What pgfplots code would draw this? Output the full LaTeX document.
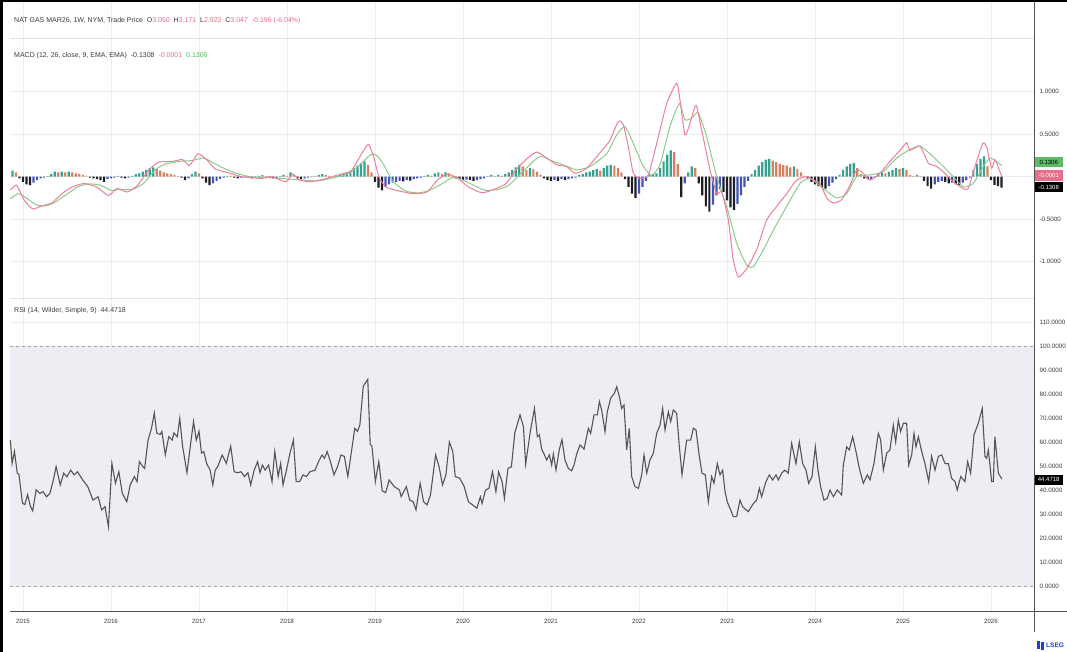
\documentclass[border=0pt]{standalone}
\usepackage{fontspec}
\setmainfont{Liberation Sans}
\usepackage{pgfplots}
\usepackage{pgfplotstable}
\pgfplotsset{compat=1.18}

\definecolor{macdpink}{HTML}{EE7F9C}
\definecolor{siggreen}{HTML}{8CCB8C}
\definecolor{hteal}{HTML}{36A190}
\definecolor{horange}{HTML}{D4825E}
\definecolor{hblack}{HTML}{1E1E28}
\definecolor{hblue}{HTML}{4355B8}
\definecolor{rsiline}{HTML}{555555}
\definecolor{band}{HTML}{ECEAF1}
\definecolor{gridc}{HTML}{ECECEC}
\definecolor{sepc}{HTML}{E2E2E2}
\definecolor{txt}{HTML}{3C3C3C}
\definecolor{pinktxt}{HTML}{E5708C}
\definecolor{greentxt}{HTML}{5CB860}
\definecolor{greenbox}{HTML}{5DBB63}
\definecolor{pinkbox}{HTML}{E5708C}
\definecolor{axisgray}{HTML}{505050}
\definecolor{lsegblue}{HTML}{1F3FD6}

% MACD histogram, one bar every 0.04 yr; k: 0 up/rising, 1 up/falling, 2 down/falling, 3 down/rising
\pgfplotstableread{
x h k
2014.88 0.07 0
2014.92 0.05 1
2014.96 -0.02 2
2015.00 -0.06 2
2015.04 -0.09 2
2015.08 -0.10 2
2015.12 -0.07 3
2015.16 -0.04 3
2015.20 -0.02 3
2015.24 -0.01 3
2015.28 0.01 0
2015.32 0.03 0
2015.36 0.06 0
2015.40 0.05 1
2015.44 0.06 0
2015.48 0.05 1
2015.52 0.06 0
2015.56 0.05 1
2015.60 0.04 1
2015.64 0.03 1
2015.68 0.02 1
2015.72 0.01 1
2015.76 -0.01 2
2015.80 -0.02 2
2015.84 -0.03 2
2015.88 -0.04 2
2015.92 -0.06 2
2015.96 -0.03 3
2016.00 -0.02 3
2016.04 -0.01 3
2016.08 0.01 0
2016.12 -0.01 2
2016.16 -0.02 2
2016.20 -0.01 3
2016.24 0.01 0
2016.28 0.03 0
2016.32 0.04 0
2016.36 0.06 0
2016.40 0.08 0
2016.44 0.10 0
2016.48 0.11 0
2016.52 0.09 1
2016.56 0.07 1
2016.60 0.05 1
2016.64 0.04 1
2016.68 0.03 1
2016.72 0.02 1
2016.76 0.01 1
2016.80 -0.01 2
2016.84 -0.04 2
2016.88 -0.02 3
2016.92 0.03 0
2016.96 0.06 0
2017.00 0.04 1
2017.04 -0.02 2
2017.08 -0.07 2
2017.12 -0.10 2
2017.16 -0.08 3
2017.20 -0.05 3
2017.24 -0.03 3
2017.28 -0.01 3
2017.32 0.01 0
2017.36 0.01 1
2017.40 -0.01 2
2017.44 -0.02 2
2017.48 -0.01 3
2017.52 0.01 0
2017.56 -0.01 2
2017.60 -0.02 2
2017.64 -0.01 3
2017.68 0.01 0
2017.72 0.02 0
2017.76 0.01 1
2017.80 -0.01 2
2017.84 -0.02 2
2017.88 -0.015 3
2017.92 0.01 0
2017.96 0.02 0
2018.00 0.01 1
2018.04 0.05 0
2018.08 0.02 1
2018.12 -0.02 2
2018.16 -0.03 2
2018.20 -0.02 3
2018.24 -0.01 3
2018.28 0.01 0
2018.32 0.01 1
2018.36 0.02 0
2018.40 0.03 0
2018.44 0.02 1
2018.48 0.01 1
2018.52 0.005 1
2018.56 0.01 0
2018.60 0.02 0
2018.64 0.03 0
2018.68 0.05 0
2018.72 0.07 0
2018.76 0.10 0
2018.80 0.13 0
2018.84 0.16 0
2018.88 0.18 0
2018.92 0.14 1
2018.96 0.05 1
2019.00 -0.06 2
2019.04 -0.13 2
2019.08 -0.16 2
2019.12 -0.12 3
2019.16 -0.09 3
2019.20 -0.07 3
2019.24 -0.06 3
2019.28 -0.05 3
2019.32 -0.055 2
2019.36 -0.04 3
2019.40 -0.045 2
2019.44 -0.03 3
2019.48 -0.02 3
2019.52 -0.01 3
2019.56 0.01 0
2019.60 0.02 0
2019.64 0.01 1
2019.68 0.04 0
2019.72 0.05 0
2019.76 0.03 1
2019.80 0.05 0
2019.84 0.04 1
2019.88 0.01 1
2019.92 -0.02 2
2019.96 -0.03 2
2020.00 -0.04 2
2020.04 -0.035 3
2020.08 -0.04 2
2020.12 -0.05 2
2020.16 -0.04 3
2020.20 -0.03 3
2020.24 -0.02 3
2020.28 0.01 0
2020.32 0.02 0
2020.36 0.01 1
2020.40 0.02 0
2020.44 0.01 1
2020.48 0.03 0
2020.52 0.05 0
2020.56 0.08 0
2020.60 0.11 0
2020.64 0.14 0
2020.68 0.12 1
2020.72 0.08 1
2020.76 0.10 0
2020.80 0.09 1
2020.84 0.06 1
2020.88 0.02 1
2020.92 -0.02 2
2020.96 -0.04 2
2021.00 -0.05 2
2021.04 -0.04 3
2021.08 -0.05 2
2021.12 -0.03 3
2021.16 -0.04 2
2021.20 -0.03 3
2021.24 -0.02 3
2021.28 -0.01 3
2021.32 0.02 0
2021.36 0.03 0
2021.40 0.05 0
2021.44 0.06 0
2021.48 0.08 0
2021.52 0.09 0
2021.56 0.07 1
2021.60 0.10 0
2021.64 0.13 0
2021.68 0.14 0
2021.72 0.13 1
2021.76 0.10 1
2021.80 0.05 1
2021.84 -0.03 2
2021.88 -0.12 2
2021.92 -0.20 2
2021.96 -0.25 2
2022.00 -0.20 3
2022.04 -0.12 3
2022.08 -0.05 3
2022.12 0.02 0
2022.16 0.03 0
2022.20 0.04 0
2022.24 0.10 0
2022.28 0.18 0
2022.32 0.26 0
2022.36 0.31 0
2022.40 0.29 1
2022.44 0.15 1
2022.48 -0.24 2
2022.52 -0.08 3
2022.56 0.05 0
2022.60 0.12 0
2022.64 0.10 1
2022.68 -0.08 2
2022.72 -0.22 2
2022.76 -0.35 2
2022.80 -0.41 2
2022.84 -0.33 3
2022.88 -0.22 3
2022.92 -0.15 3
2022.96 -0.18 2
2023.00 -0.28 2
2023.04 -0.36 2
2023.08 -0.39 2
2023.12 -0.32 3
2023.16 -0.22 3
2023.20 -0.12 3
2023.24 -0.05 3
2023.28 0.03 0
2023.32 0.08 0
2023.36 0.13 0
2023.40 0.17 0
2023.44 0.20 0
2023.48 0.21 0
2023.52 0.19 1
2023.56 0.17 1
2023.60 0.15 1
2023.64 0.14 1
2023.68 0.13 1
2023.72 0.11 1
2023.76 0.12 0
2023.80 0.09 1
2023.84 0.05 1
2023.88 0.01 1
2023.92 -0.03 2
2023.96 -0.06 2
2024.00 -0.09 2
2024.04 -0.11 2
2024.08 -0.13 2
2024.12 -0.14 2
2024.16 -0.11 3
2024.20 -0.07 3
2024.24 -0.03 3
2024.28 0.02 0
2024.32 0.08 0
2024.36 0.12 0
2024.40 0.15 0
2024.44 0.16 0
2024.48 0.10 1
2024.52 0.03 1
2024.56 -0.02 2
2024.60 -0.03 2
2024.64 -0.025 3
2024.68 -0.01 3
2024.72 0.03 0
2024.76 0.05 0
2024.80 0.04 1
2024.84 0.06 0
2024.88 0.08 0
2024.92 0.10 0
2024.96 0.09 1
2025.00 0.10 0
2025.04 0.08 1
2025.08 0.02 1
2025.12 0.01 1
2025.16 0.02 0
2025.20 0.01 1
2025.24 -0.05 2
2025.28 -0.11 2
2025.32 -0.14 2
2025.36 -0.09 3
2025.40 -0.06 3
2025.44 -0.05 3
2025.48 -0.06 2
2025.52 -0.08 2
2025.56 -0.07 3
2025.60 -0.09 2
2025.64 -0.10 2
2025.68 -0.07 3
2025.72 -0.04 3
2025.76 -0.01 3
2025.80 0.08 0
2025.84 0.15 0
2025.88 0.21 0
2025.92 0.24 0
2025.96 0.12 1
2026.00 -0.04 2
2026.04 -0.10 2
2026.08 -0.11 2
2026.12 -0.13 2
}\hist

\begin{document}
\begin{tikzpicture}[x=1pt,y=1pt]
\useasboundingbox (0,0) rectangle (1067,652);
\fill[white] (0,0) rectangle (1067,652);

% ---------- MACD pane (runs up to the top so the year grid crosses the header)
\begin{axis}[
  at={(10pt,650pt)}, anchor=north west,
  width=1024pt, height=296pt, scale only axis,
  xmin=2014.852, xmax=2026.489,
  ymin=-1.427, ymax=2.055,
  axis line style={draw=none},
  xtick={2015,2016,2017,2018,2019,2020,2021,2022,2023,2024,2025,2026},
  xticklabels={},
  ytick={-1,-0.5,0,0.5,1},
  yticklabels={-1.0000,-0.5000,,0.5000,1.0000},
  yticklabel pos=right,
  major tick length=0pt,
  xmajorgrids, ymajorgrids,
  grid style={gridc, line width=0.6pt},
  yticklabel style={font=\fontsize{6.3}{7}\selectfont, text=txt, xshift=2pt},
  clip=false,
]
\addplot[ybar, bar width=2.2pt, bar shift=0pt, fill=hteal, draw=none,
  restrict expr to domain={\thisrow{k}}{0:0}] table[x=x, y=h] {\hist};
\addplot[ybar, bar width=2.2pt, bar shift=0pt, fill=horange, draw=none,
  restrict expr to domain={\thisrow{k}}{1:1}] table[x=x, y=h] {\hist};
\addplot[ybar, bar width=2.2pt, bar shift=0pt, fill=hblack, draw=none,
  restrict expr to domain={\thisrow{k}}{2:2}] table[x=x, y=h] {\hist};
\addplot[ybar, bar width=2.2pt, bar shift=0pt, fill=hblue, draw=none,
  restrict expr to domain={\thisrow{k}}{3:3}] table[x=x, y=h] {\hist};

% signal line
\addplot[siggreen, line width=1pt, smooth, tension=0.35] table {
2014.856 -0.26
2014.950 -0.20
2015.050 -0.26
2015.150 -0.33
2015.250 -0.345
2015.350 -0.31
2015.480 -0.22
2015.620 -0.12
2015.750 -0.085
2015.880 -0.10
2016.000 -0.16
2016.120 -0.15
2016.250 -0.15
2016.380 -0.07
2016.500 0.08
2016.620 0.15
2016.780 0.18
2016.920 0.19
2017.050 0.22
2017.150 0.17
2017.280 0.10
2017.420 0.04
2017.580 0.00
2017.750 -0.01
2017.920 -0.02
2018.050 -0.03
2018.200 -0.04
2018.350 -0.05
2018.500 -0.02
2018.680 0.03
2018.820 0.13
2018.950 0.26
2019.020 0.25
2019.100 0.14
2019.200 -0.05
2019.350 -0.17
2019.500 -0.19
2019.620 -0.16
2019.750 -0.09
2019.880 -0.01
2019.980 -0.03
2020.100 -0.09
2020.250 -0.16
2020.400 -0.15
2020.520 -0.10
2020.620 0.00
2020.720 0.10
2020.820 0.20
2020.894 0.24
2021.027 0.18
2021.140 0.14
2021.292 0.08
2021.443 0.12
2021.633 0.27
2021.746 0.49
2021.841 0.59
2021.936 0.39
2022.050 0.12
2022.144 0.02
2022.239 0.14
2022.352 0.59
2022.459 0.86
2022.523 0.67
2022.599 0.69
2022.674 0.75
2022.769 0.47
2022.883 0.00
2022.996 -0.35
2023.110 -0.78
2023.224 -1.04
2023.300 -1.06
2023.413 -0.86
2023.527 -0.63
2023.678 -0.35
2023.830 -0.08
2023.944 -0.02
2024.095 -0.14
2024.246 -0.25
2024.360 -0.20
2024.474 0.00
2024.625 0.02
2024.777 0.06
2024.928 0.22
2025.080 0.32
2025.193 0.36
2025.307 0.27
2025.458 0.12
2025.572 0.00
2025.686 -0.12
2025.799 -0.08
2025.913 0.12
2025.989 0.22
2026.060 0.18
2026.125 0.13
};

% MACD line
\addplot[macdpink, line width=1pt, smooth, tension=0.35] table {
2014.856 -0.16
2014.926 -0.10
2015.013 -0.275
2015.110 -0.38
2015.208 -0.345
2015.326 -0.31
2015.443 -0.20
2015.560 -0.12
2015.697 -0.08
2015.834 -0.12
2015.971 -0.22
2016.069 -0.14
2016.186 -0.18
2016.304 -0.10
2016.421 0.07
2016.539 0.17
2016.695 0.18
2016.813 0.20
2016.891 0.13
2016.989 0.27
2017.087 0.20
2017.184 0.09
2017.321 0.05
2017.478 0.00
2017.595 -0.01
2017.713 -0.02
2017.830 0.00
2017.987 -0.06
2018.065 0.03
2018.143 -0.04
2018.261 -0.06
2018.417 -0.03
2018.574 0.02
2018.730 0.07
2018.848 0.27
2018.926 0.38
2018.985 0.23
2019.043 0.00
2019.121 -0.12
2019.239 -0.16
2019.434 -0.20
2019.591 -0.18
2019.709 -0.04
2019.826 0.03
2019.943 -0.02
2020.061 -0.12
2020.217 -0.19
2020.374 -0.14
2020.491 -0.08
2020.609 0.09
2020.726 0.21
2020.837 0.29
2020.951 0.22
2021.065 0.14
2021.178 0.12
2021.273 0.04
2021.406 0.10
2021.595 0.33
2021.671 0.43
2021.765 0.65
2021.822 0.61
2021.879 0.35
2021.936 0.04
2022.012 -0.02
2022.106 0.02
2022.201 0.39
2022.315 0.86
2022.428 1.10
2022.466 0.90
2022.523 0.49
2022.580 0.63
2022.648 0.84
2022.712 0.55
2022.807 0.08
2022.883 -0.20
2022.940 -0.18
2023.015 -0.51
2023.072 -0.98
2023.129 -1.18
2023.224 -1.08
2023.337 -0.86
2023.451 -0.51
2023.565 -0.35
2023.678 -0.20
2023.792 -0.04
2023.906 0.00
2023.981 -0.04
2024.057 -0.08
2024.133 -0.25
2024.209 -0.31
2024.303 -0.27
2024.398 -0.10
2024.474 0.08
2024.549 0.04
2024.625 -0.04
2024.739 0.04
2024.852 0.18
2024.966 0.31
2025.042 0.40
2025.080 0.31
2025.193 0.36
2025.288 0.16
2025.383 0.12
2025.477 0.04
2025.572 -0.06
2025.686 -0.14
2025.742 -0.14
2025.818 0.12
2025.906 0.39
2025.951 0.35
2026.008 0.10
2026.045 0.20
2026.102 0.06
2026.125 0.00
};

% last-value boxes on the price scale
\node[fill=greenbox, text=black, anchor=west, inner sep=0pt, minimum width=29pt,
  minimum height=10.5pt, font=\fontsize{6}{7}\selectfont] at (axis cs:2026.489,0.173) {0.1306};
\node[fill=pinkbox, text=white, anchor=west, inner sep=0pt, minimum width=29pt,
  minimum height=10.5pt, font=\fontsize{6}{7}\selectfont] at (axis cs:2026.489,0.012) {-0.0001};
\node[fill=black, text=white, anchor=west, inner sep=0pt, minimum width=29pt,
  minimum height=10.5pt, font=\fontsize{6}{7}\selectfont] at (axis cs:2026.489,-0.121) {-0.1308};
\end{axis}

% ---------- RSI pane
\begin{axis}[
  at={(10pt,354pt)}, anchor=north west,
  width=1024pt, height=313pt, scale only axis,
  xmin=2014.852, xmax=2026.489,
  ymin=-10.417, ymax=120,
  axis line style={draw=none},
  xtick={2015,2016,2017,2018,2019,2020,2021,2022,2023,2024,2025,2026},
  xticklabels={2015,2016,2017,2018,2019,2020,2021,2022,2023,2024,2025,2026},
  ytick={0,10,20,30,40,50,60,70,80,90,100,110},
  yticklabels={0.0000,10.0000,20.0000,30.0000,40.0000,50.0000,60.0000,70.0000,80.0000,90.0000,100.0000,110.0000},
  yticklabel pos=right,
  major tick length=0pt,
  xmajorgrids, ymajorgrids,
  grid style={gridc, line width=0.6pt},
  yticklabel style={font=\fontsize{6.3}{7}\selectfont, text=txt, xshift=2pt},
  xticklabel style={font=\fontsize{6.2}{7}\selectfont, text=txt, anchor=base, yshift=-13pt},
  clip=false,
]
% band between the 0 and 100 levels
\addplot[draw=none, fill=band, fill opacity=0.85] coordinates {
  (2014.852,0) (2026.489,0) (2026.489,100) (2014.852,100)} -- cycle;
\addplot[gray!70, dashed, line width=0.6pt] coordinates {(2014.852,100) (2026.489,100)};
\addplot[gray!70, dashed, line width=0.6pt] coordinates {(2014.852,0) (2026.489,0)};

\addplot[rsiline, line width=1.1pt] table {
2014.856 60.8
2014.876 51.1
2014.903 56.0
2014.934 47.1
2014.954 46.4
2014.993 34.6
2015.020 33.9
2015.052 38.1
2015.083 33.3
2015.110 31.3
2015.149 40.1
2015.189 38.6
2015.228 39.3
2015.267 37.2
2015.306 38.6
2015.345 44.2
2015.376 49.7
2015.423 42.1
2015.462 47.0
2015.500 45.5
2015.541 48.3
2015.580 46.3
2015.619 47.6
2015.678 44.2
2015.736 41.4
2015.795 35.8
2015.854 37.2
2015.893 31.7
2015.932 33.1
2015.971 24.7
2016.010 51.1
2016.050 42.8
2016.089 47.6
2016.128 38.6
2016.179 35.1
2016.218 42.1
2016.265 45.6
2016.296 43.5
2016.323 51.8
2016.363 49.7
2016.382 49.0
2016.421 60.8
2016.460 65.7
2016.492 72.1
2016.519 63.8
2016.558 63.1
2016.578 64.4
2016.617 54.6
2016.656 62.2
2016.695 60.8
2016.715 63.8
2016.754 62.2
2016.781 69.9
2016.813 58.3
2016.863 47.2
2016.910 60.8
2016.938 68.5
2016.969 60.8
2017.000 64.4
2017.028 55.4
2017.055 56.0
2017.086 51.1
2017.126 48.3
2017.157 42.1
2017.184 48.3
2017.212 49.7
2017.263 54.6
2017.310 51.1
2017.360 58.3
2017.399 47.6
2017.439 47.2
2017.478 47.6
2017.517 45.6
2017.556 47.2
2017.587 42.1
2017.627 48.3
2017.666 51.8
2017.693 47.2
2017.720 50.4
2017.752 48.3
2017.791 50.4
2017.830 43.5
2017.861 56.0
2017.900 45.6
2017.928 51.1
2017.955 42.1
2017.994 48.3
2018.034 55.4
2018.073 60.8
2018.104 43.5
2018.143 43.5
2018.182 46.3
2018.221 45.6
2018.261 47.6
2018.319 48.3
2018.358 51.8
2018.398 54.6
2018.425 53.2
2018.456 56.0
2018.488 52.5
2018.534 46.3
2018.574 49.7
2018.613 54.6
2018.652 54.0
2018.691 45.6
2018.730 55.4
2018.770 65.7
2018.801 64.4
2018.828 67.1
2018.867 83.3
2018.918 86.1
2018.945 59.0
2018.965 58.3
2019.004 43.5
2019.043 51.8
2019.082 39.6
2019.121 38.9
2019.161 44.2
2019.219 41.4
2019.278 40.0
2019.297 37.2
2019.356 41.4
2019.395 35.8
2019.434 35.1
2019.466 31.7
2019.513 42.8
2019.552 35.1
2019.591 33.8
2019.630 37.9
2019.689 54.6
2019.728 49.7
2019.767 42.1
2019.806 46.3
2019.845 60.0
2019.884 56.0
2019.912 45.6
2019.963 44.9
2020.014 41.4
2020.061 35.1
2020.108 33.8
2020.158 32.4
2020.197 37.2
2020.217 34.4
2020.256 40.0
2020.295 40.7
2020.335 47.6
2020.374 39.3
2020.405 47.6
2020.444 43.5
2020.471 36.5
2020.511 49.0
2020.550 49.7
2020.589 63.8
2020.648 71.3
2020.687 66.4
2020.712 50.8
2020.765 64.4
2020.812 74.0
2020.845 62.2
2020.868 63.0
2020.894 57.0
2020.921 55.0
2020.951 52.5
2020.981 54.6
2021.008 50.4
2021.027 55.0
2021.057 48.3
2021.095 57.0
2021.125 61.0
2021.159 52.5
2021.197 49.0
2021.235 48.0
2021.262 50.4
2021.292 55.0
2021.330 58.8
2021.375 57.0
2021.425 65.7
2021.451 63.6
2021.489 71.3
2021.527 71.3
2021.550 76.8
2021.576 73.3
2021.614 64.3
2021.640 72.6
2021.678 78.2
2021.720 80.3
2021.747 83.0
2021.777 78.9
2021.803 74.0
2021.830 75.4
2021.860 56.7
2021.890 65.7
2021.917 45.6
2021.955 41.4
2021.993 40.7
2022.031 46.3
2022.057 54.6
2022.088 47.0
2022.125 52.5
2022.163 55.3
2022.201 63.6
2022.239 67.0
2022.269 74.0
2022.296 65.0
2022.334 72.6
2022.360 68.5
2022.390 73.3
2022.428 72.0
2022.459 58.0
2022.489 46.3
2022.542 60.8
2022.587 60.8
2022.618 65.7
2022.648 65.0
2022.686 54.0
2022.716 47.0
2022.754 46.3
2022.788 35.0
2022.826 45.6
2022.852 42.8
2022.890 51.0
2022.921 46.3
2022.951 48.3
2022.978 39.3
2023.004 35.0
2023.042 31.7
2023.072 28.9
2023.110 28.9
2023.148 35.8
2023.178 33.0
2023.210 32.0
2023.243 31.0
2023.300 34.4
2023.337 35.8
2023.368 40.7
2023.394 37.2
2023.443 43.5
2023.481 46.3
2023.519 44.2
2023.557 46.3
2023.584 44.2
2023.621 47.0
2023.659 48.3
2023.697 47.0
2023.735 59.4
2023.784 51.0
2023.822 60.0
2023.860 51.0
2023.898 48.3
2023.928 42.8
2023.966 45.6
2024.004 58.0
2024.034 48.3
2024.064 41.4
2024.102 35.8
2024.140 36.5
2024.170 40.0
2024.209 37.2
2024.254 40.0
2024.303 37.9
2024.322 50.4
2024.360 58.0
2024.390 56.7
2024.428 62.2
2024.466 56.0
2024.504 49.0
2024.549 42.8
2024.595 46.3
2024.625 44.2
2024.670 51.0
2024.720 63.6
2024.746 61.0
2024.777 48.3
2024.815 55.3
2024.852 56.7
2024.890 67.0
2024.917 60.0
2024.947 69.0
2024.973 64.3
2025.004 67.8
2025.042 67.8
2025.065 50.4
2025.099 54.6
2025.125 63.6
2025.148 58.0
2025.175 62.2
2025.213 56.0
2025.250 51.0
2025.292 43.5
2025.326 54.0
2025.364 48.3
2025.402 54.0
2025.440 54.6
2025.478 51.0
2025.515 51.0
2025.553 44.9
2025.591 43.5
2025.617 40.0
2025.656 45.6
2025.704 43.5
2025.735 51.8
2025.769 47.0
2025.807 63.0
2025.856 67.8
2025.901 74.0
2025.932 54.0
2025.951 53.2
2025.970 56.7
2026.008 43.5
2026.027 43.5
2026.045 62.2
2026.084 47.0
2026.125 44.5
};

\node[fill=black, text=white, anchor=west, inner sep=0pt, minimum width=29pt,
  minimum height=10pt, font=\fontsize{6}{7}\selectfont] at (axis cs:2026.489,44.3) {44.4718};
\end{axis}

% pane separators, scale line, time axis line
\draw[sepc, line width=0.8pt] (10,614) -- (1034,614);
\draw[sepc, line width=0.8pt] (10,354) -- (1034,354);
\draw[axisgray, line width=0.9pt] (1034,650) -- (1034,20);
\draw[axisgray, line width=0.9pt] (10,41) -- (1067,41);

% legends
\node[anchor=west, inner sep=0pt, text=txt, font=\fontsize{7}{8}\selectfont] at (14,631)
  {NAT GAS MAR26, 1W, NYM, Trade Price\ \ O\textcolor{pinktxt}{3.050}\ \ H\textcolor{pinktxt}{3.171}\ \ L\textcolor{pinktxt}{2.922}\ \ C\textcolor{pinktxt}{3.047}\ \ \textcolor{pinktxt}{-0.196 (-6.04\%)}};
\node[anchor=west, inner sep=0pt, text=txt, font=\fontsize{7}{8}\selectfont] at (14,596)
  {MACD (12, 26, close, 9, EMA, EMA)\ \ -0.1308\ \ \textcolor{pinktxt}{-0.0001}\ \ \textcolor{greentxt}{0.1306}};
\node[anchor=west, inner sep=0pt, text=txt, font=\fontsize{7}{8}\selectfont] at (14,341)
  {RSI (14, Wilder, Simple, 9)\ \ 44.4718};

% logo, bottom right
\fill[lsegblue] (1037,3) rectangle (1040,11);
\fill[lsegblue] (1041,2) rectangle (1044,10);
\node[anchor=west, inner sep=0pt, text=lsegblue, font=\bfseries\fontsize{6.5}{7}\selectfont] at (1046,7) {LSEG};

% frame
\fill[black] (0,0) rectangle (3,652);
\fill[black] (0,649.5) rectangle (1067,652);
\end{tikzpicture}
\end{document}
